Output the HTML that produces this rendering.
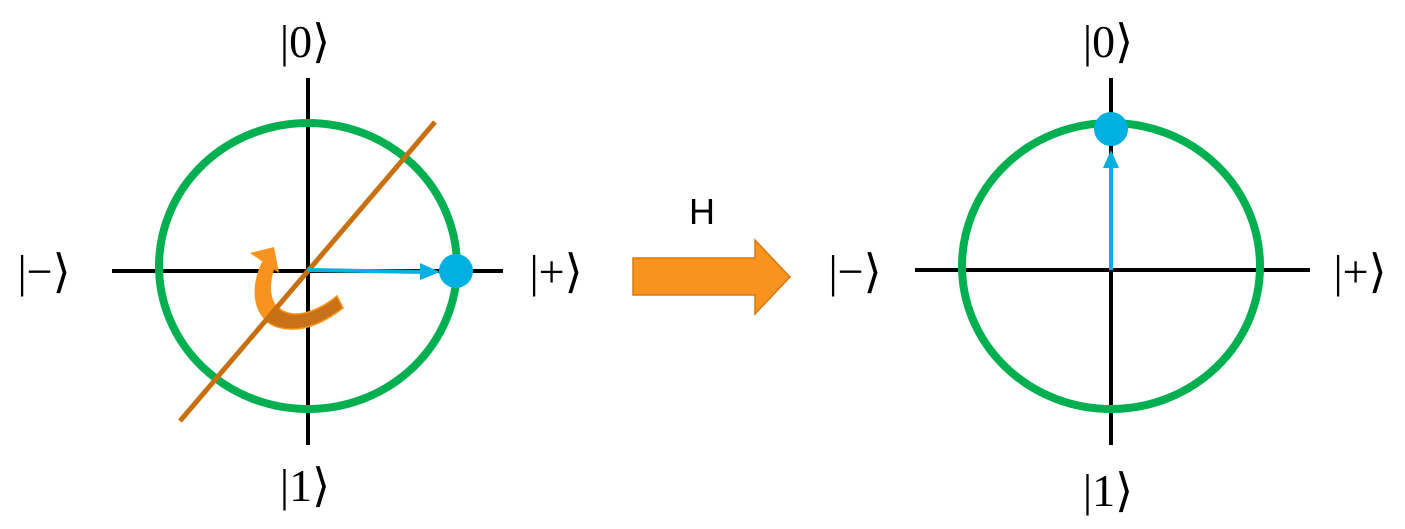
<!DOCTYPE html>
<html><head><style>body{margin:0;background:#fff}svg{display:block}</style></head><body>
<svg width="1405" height="529" viewBox="0 0 1405 529" xmlns="http://www.w3.org/2000/svg">
<defs>
<clipPath id="br"><path d="M180,421 L435,122 L600,122 L600,500 L180,500 Z"/></clipPath>
</defs>
<g font-family="Liberation Serif, serif" font-size="46" fill="#000">
<text x="305" y="57" text-anchor="middle">|0⟩</text>
<text x="305" y="501" text-anchor="middle">|1⟩</text>
<text x="44" y="287" text-anchor="middle">|−⟩</text>
<text x="556" y="287" text-anchor="middle">|+⟩</text>
<text x="1108" y="57" text-anchor="middle">|0⟩</text>
<text x="1108" y="506" text-anchor="middle">|1⟩</text>
<text x="855" y="287" text-anchor="middle">|−⟩</text>
<text x="1360" y="287" text-anchor="middle">|+⟩</text>
</g>
<text x="702" y="224" font-family="Liberation Sans, sans-serif" font-size="36" text-anchor="middle">H</text>
<!-- left -->
<line x1="112" y1="271" x2="503" y2="271" stroke="#000" stroke-width="4"/>
<line x1="308" y1="78" x2="308" y2="445" stroke="#000" stroke-width="4"/>
<ellipse cx="308" cy="266" rx="149" ry="143" fill="none" stroke="#00b050" stroke-width="8"/>
<g>
<path id="cv" d="M262,262 C248,290 252,328 290,329 C310,330 330,318 343,308 L337,296 C320,310 300,318 285,312 C268,305 268,282 277,262 Z" fill="#f7931e"/>
<path d="M250,253 L274,247 L279,273 Z" fill="#f7931e"/>
<path d="M262,262 C248,290 252,328 290,329 C310,330 330,318 343,308 L337,296 C320,310 300,318 285,312 C268,305 268,282 277,262 Z" fill="#c87117" stroke="#f7931e" stroke-width="1.5" clip-path="url(#br)"/>
</g>
<line x1="180" y1="421" x2="435" y2="122" stroke="#c8700f" stroke-width="5"/>
<line x1="308" y1="270" x2="425" y2="272" stroke="#00b0e0" stroke-width="4"/>
<path d="M420,263 L440,272 L420,280 Z" fill="#00b0e0"/>
<circle cx="456" cy="271" r="17" fill="#00b0e0"/>
<!-- big arrow -->
<path d="M633,258 L755,258 L755,240 L790,277 L755,314 L755,295 L633,295 Z" fill="#f7931e" stroke="#d77a15" stroke-width="1.5"/>
<!-- right -->
<line x1="915" y1="270" x2="1310" y2="270" stroke="#000" stroke-width="4"/>
<line x1="1111" y1="78" x2="1111" y2="445" stroke="#000" stroke-width="4"/>
<ellipse cx="1111" cy="266" rx="149" ry="143" fill="none" stroke="#00b050" stroke-width="8"/>
<line x1="1111" y1="270" x2="1111" y2="165" stroke="#00b0e0" stroke-width="4"/>
<path d="M1103,168 L1111,150 L1119,168 Z" fill="#00b0e0"/>
<circle cx="1111" cy="129" r="17" fill="#00b0e0"/>
</svg>
</body></html>
